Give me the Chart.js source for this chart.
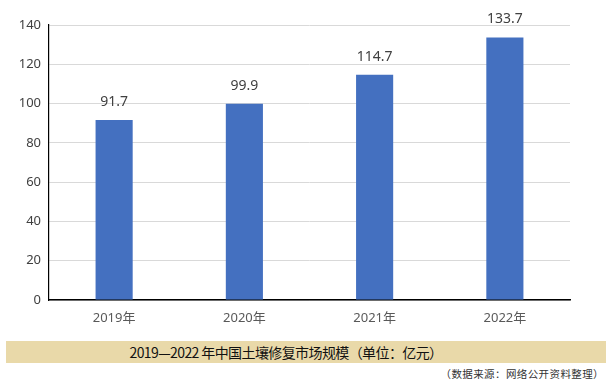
<!DOCTYPE html>
<html><head><meta charset="utf-8">
<script src="https://cdn.jsdelivr.net/npm/chart.js@4"></script>
<style>
html,body{margin:0;padding:0;background:#fff;width:606px;height:385px;overflow:hidden;font-family:'Noto Sans','Noto Sans CJK SC',sans-serif;}
#wrap{position:absolute;left:0;top:0;width:606px;height:335px;}
#cap{position:absolute;left:6px;top:341px;width:600px;height:22px;background:#e9d9a9;}
#capt{position:absolute;left:0;top:0;width:560px;text-align:center;line-height:22px;font-size:14px;letter-spacing:-0.6px;color:#111;font-family:'Noto Sans CJK SC',sans-serif;}
#src{position:absolute;right:2px;top:366px;font-size:10.5px;color:#333;font-family:'Noto Sans CJK SC',serif;letter-spacing:0.4px;}
</style></head><body>
<div id="wrap"><canvas id="c" width="606" height="335"></canvas></div>
<div id="cap"><div id="capt">2019—2022 年中国土壤修复市场规模（单位：亿元）</div></div>
<div id="src">（数据来源：网络公开资料整理）</div>
<script>
const categories = ['2019年','2020年','2021年','2022年'];
const marketSize = [91.7, 99.9, 114.7, 133.7];
const yTicks = [0,20,40,60,80,100,120,140];

const labelPlugin = {
  id:'valueLabels',
  afterDatasetsDraw(chart){
    const ctx = chart.ctx;
    const meta = chart.getDatasetMeta(0);
    ctx.save();
    ctx.font = '14px "Noto Sans", "Noto Sans CJK SC", sans-serif';
    ctx.fillStyle = '#404040';
    ctx.textAlign = 'center';
    ctx.textBaseline = 'middle';
    meta.data.forEach((bar,i)=>{
      ctx.fillText(marketSize[i].toFixed(1), bar.x, bar.y - 18);
    });
    ctx.restore();
  }
};

new Chart(document.getElementById('c'), {
  type:'bar',
  data:{labels:categories, datasets:[{data:marketSize, backgroundColor:'#4470C0', categoryPercentage:1, barPercentage:0.285}]},
  options:{
    responsive:false, animation:false,
    layout:{padding:{left:0,right:36,top:25,bottom:0}},
    plugins:{legend:{display:false}, tooltip:{enabled:false}},
    scales:{
      x:{
        grid:{display:false, drawTicks:false},
        border:{display:true,color:'#000',width:1.5},
        ticks:{color:'#595959', font:{size:13, family:'"Noto Sans","Noto Sans CJK SC",sans-serif'}, padding:10},
        afterFit(s){ s.height = 35; }
      },
      y:{
        min:0,max:140,
        afterBuildTicks(s){ s.ticks = yTicks.map(v=>({value:v})); },
        grid:{color:'#d9d9d9', drawTicks:false},
        border:{display:true,color:'#000',width:1.2},
        ticks:{color:'#404040', font:{size:13, family:'"Noto Sans",sans-serif'}, padding:8},
        afterFit(s){ s.width = 49; }
      }
    }
  },
  plugins:[labelPlugin]
});
</script>
</body></html>
